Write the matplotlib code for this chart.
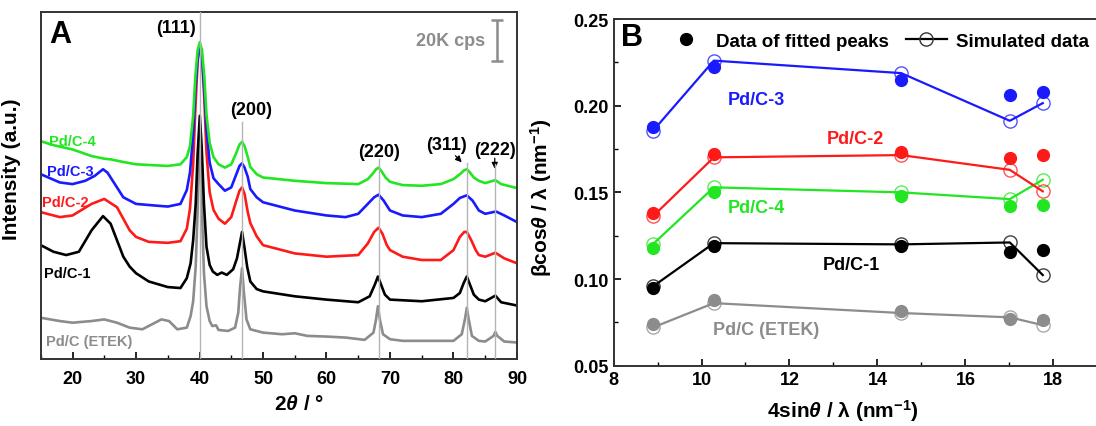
import matplotlib
matplotlib.use('Agg')
import matplotlib.pyplot as plt
from matplotlib.lines import Line2D
from matplotlib.ticker import MultipleLocator, FormatStrFormatter

plt.rcParams['font.family'] = ['Liberation Sans', 'DejaVu Sans']
plt.rcParams['font.weight'] = 'bold'
plt.rcParams['mathtext.fontset'] = 'custom'
plt.rcParams['mathtext.rm'] = 'Liberation Sans:bold'
plt.rcParams['mathtext.it'] = 'Liberation Sans:bold:italic'
plt.rcParams['mathtext.bf'] = 'Liberation Sans:bold'

# ---- panel A : XRD patterns (2theta, intensity in arbitrary units, offset) ----
tt_c4 = [15, 17, 20, 23, 25, 26, 28, 30, 33, 35, 37, 38, 38.5, 39.0, 39.35, 39.7, 40.05, 40.4, 40.75,
         41.1, 41.6, 42.2, 43, 44, 45, 45.8, 46.3, 46.7, 47.1, 47.6, 48, 49, 50, 55, 60, 65, 66.5,
         67.3, 67.8, 68.2, 68.7, 69.3, 70, 72, 75, 78, 80, 81, 81.7, 82.1, 82.6, 83.2, 84, 85, 86.6,
         87.5, 90]
int_c4 = [660, 648, 635, 615, 607, 605, 597, 590, 587, 585, 590, 612, 645, 737, 858, 935, 960, 935, 858,
          740, 655, 612, 590, 580, 590, 625, 650, 658, 645, 612, 582, 560, 550, 540, 533, 530, 545,
          562, 575, 580, 568, 550, 537, 527, 525, 530, 545, 560, 572, 575, 565, 550, 540, 533, 542,
          530, 518]

tt_c3 = [15, 18, 20, 22, 23.5, 24.8, 25.5, 26.5, 28, 30, 33, 35, 37, 38, 38.5, 39.0, 39.35, 39.7, 40.05,
         40.4, 40.75, 41.1, 41.6, 42.2, 43, 44, 45, 45.8, 46.3, 46.7, 47.1, 47.6, 48, 49, 50, 55, 60,
         63, 65, 66.5, 67.5, 68.2, 69, 70, 72, 75, 78, 80, 81, 82.1, 83, 84, 85, 86.7, 88, 90]
int_c3 = [560, 535, 530, 540, 555, 575, 565, 535, 490, 470, 465, 462, 470, 512, 565, 680, 820, 910, 940,
          910, 820, 695, 595, 548, 530, 510, 520, 560, 585, 593, 580, 552, 515, 490, 475, 450, 435,
          430, 440, 470, 490, 498, 480, 450, 435, 430, 440, 470, 488, 496, 480, 450, 440, 447, 435, 415]

tt_c2 = [15, 18, 20, 23, 25, 27, 29, 30, 32, 35, 37, 38, 38.5, 39.0, 39.35, 39.7, 40.05, 40.4, 40.75,
         41.1, 41.6, 42.2, 43, 44, 45, 45.8, 46.3, 46.7, 47.1, 47.6, 48, 49, 50, 55, 60, 65, 66.5,
         67.5, 68.2, 68.8, 69.5, 70, 72, 75, 78, 80, 81, 81.7, 82.1, 82.8, 83.5, 84, 85, 86.6, 88, 90]
int_c2 = [445, 430, 435, 470, 485, 460, 390, 370, 355, 352, 357, 395, 455, 590, 760, 900, 955, 910, 790,
          625, 505, 452, 425, 410, 430, 480, 510, 520, 500, 445, 412, 372, 345, 320, 310, 315, 350,
          385, 398, 380, 345, 330, 310, 300, 300, 330, 370, 385, 385, 360, 330, 315, 310, 322, 305, 290]

tt_c1 = [15, 17, 19, 21, 23, 24.8, 26, 27, 28, 29, 30, 32, 35, 37, 38, 38.6, 39.0, 39.4, 39.7, 40.05,
         40.35, 40.7, 41.1, 41.6, 42.1, 42.8, 43.5, 44.3, 45.3, 45.9, 46.3, 46.7, 47.1, 47.5, 48, 49, 50,
         55, 60, 65, 66.8, 67.6, 68.1, 68.6, 69.2, 70, 75, 80, 81, 81.6, 82.1, 82.6, 83.2, 84, 85,
         86.6, 87.5, 90]
int_c1 = [345, 325, 315, 325, 390, 433, 410, 360, 310, 280, 260, 235, 218, 215, 245, 290, 360, 470, 620, 737,
          640, 470, 340, 285, 265, 255, 262, 255, 272, 305, 345, 385, 335, 280, 235, 212, 205,
          190, 180, 172, 190, 225, 250, 225, 195, 180, 175, 185, 200, 230, 250, 225, 195, 180, 175,
          192, 172, 162]

tt_etek = [15, 18, 20, 23, 25, 27, 29, 31, 33, 34, 35.2, 36.5, 38, 38.6, 39.0, 39.4, 39.7, 40.05, 40.35,
           40.7, 41.1, 41.6, 42, 42.6, 43, 44.5, 45.6, 46.1, 46.4, 46.7, 47.0, 47.4, 48, 50, 53, 55, 57,
           60, 63, 66, 67.4, 67.8, 68.1, 68.4, 68.9, 70, 72, 75, 80, 81.3, 81.8, 82.1, 82.4, 82.9, 84,
           85, 86.3, 86.6, 86.9, 88, 90]
int_etek = [125, 115, 110, 115, 120, 110, 95, 90, 110, 120, 115, 90, 95, 130, 175, 280, 450, 700, 470,
            260, 160, 115, 100, 102, 88, 85, 95, 140, 220, 275, 200, 120, 90, 80, 75, 78, 70,
            68, 65, 58, 80, 120, 160, 120, 75, 60, 55, 55, 55, 75, 120, 155, 120, 70, 55,
            53, 70, 82, 70, 53, 50]

peak_pos = [40.05, 46.7, 68.2, 82.1, 86.6]
peak_top = [1053, 718, 605, 595, 590]
peak_names = ['(111)', '(200)', '(220)', '(311)', '(222)']

# ---- panel B : Williamson-Hall ----
q_b = [8.90, 10.28, 14.54, 17.01, 17.76]
fit_c3 = [0.1875, 0.2221, 0.2150, 0.2061, 0.2077]
sim_c3 = [0.1856, 0.2260, 0.2188, 0.1913, 0.2015]
fit_c2 = [0.1383, 0.1721, 0.1735, 0.1696, 0.1715]
sim_c2 = [0.1363, 0.1702, 0.1715, 0.1630, 0.1506]
fit_c4 = [0.1177, 0.1500, 0.1480, 0.1419, 0.1425]
sim_c4 = [0.1202, 0.1529, 0.1500, 0.1461, 0.1573]
fit_c1 = [0.0946, 0.1192, 0.1190, 0.1154, 0.1165]
sim_c1 = [0.0958, 0.1207, 0.1200, 0.1211, 0.1023]
fit_etek = [0.0740, 0.0880, 0.0817, 0.0769, 0.0765]
sim_etek = [0.0721, 0.0861, 0.0804, 0.0779, 0.0734]

GREEN = '#22e622'
BLUE = '#1a1aff'
RED = '#ff1a1a'
BLACK = '#000000'
GRAY = '#8c8c8c'

fig = plt.figure(figsize=(10.96, 4.27), dpi=100)
axA = fig.add_axes([0.0372, 0.1569, 0.4345, 0.8138])
axB = fig.add_axes([0.5598, 0.1412, 0.4402, 0.8119])

# panel A
for tt, inten, c in [(tt_etek, int_etek, GRAY), (tt_c1, int_c1, BLACK), (tt_c2, int_c2, RED),
                     (tt_c3, int_c3, BLUE), (tt_c4, int_c4, GREEN)]:
    axA.plot(tt, inten, color=c, lw=1.9, solid_joinstyle='round')

for p, top in zip(peak_pos, peak_top):
    axA.plot([p, p], [0, top], color='#b4b4b4', lw=1.0, zorder=5)

axA.set_xlim(15, 90)
axA.set_ylim(0, 1053)
axA.set_yticks([])
axA.xaxis.set_major_locator(MultipleLocator(10))
axA.xaxis.set_minor_locator(MultipleLocator(5))
axA.tick_params(axis='x', which='both', direction='in', labelsize=13, pad=8)
axA.tick_params(axis='x', which='major', length=5, width=1.2)
axA.tick_params(axis='x', which='minor', length=3, width=1.0)
for s in axA.spines.values():
    s.set_linewidth(1.4)
    s.set_color('#333333')

axA.set_ylabel('Intensity (a.u.)', fontsize=15, fontweight='bold')
axA.yaxis.set_label_coords(-0.042, 0.55)
axA.set_xlabel(r'2$\theta$ / °', fontsize=15, fontweight='bold', va='center')
axA.xaxis.set_label_coords(0.543, -0.128)

axA.text(18.1, 985, 'A', fontsize=22, fontweight='bold', ha='center', va='center')
axA.text(79.6, 965, '20K cps', fontsize=13, fontweight='bold', color=GRAY, ha='center', va='center')
axA.errorbar([86.9], [965], yerr=[63], color=GRAY, capsize=4, elinewidth=1.8, capthick=1.8)

label_xy = [(36.25, 1005), (48.2, 755), (68.2, 630), (78.9, 650), (86.5, 635)]
for name, (x, y) in zip(peak_names, label_xy):
    axA.text(x, y, name, fontsize=13, fontweight='bold', ha='center', va='center')
axA.annotate('', xy=(81.6, 590), xytext=(80.0, 622),
             arrowprops=dict(arrowstyle='-|>', color='black', lw=0.9, mutation_scale=9))
axA.annotate('', xy=(86.5, 568), xytext=(86.5, 617),
             arrowprops=dict(arrowstyle='-|>', color='black', lw=0.9, mutation_scale=9))

for txt, x, y, c in [('Pd/C-4', 20.0, 662, GREEN), ('Pd/C-3', 19.7, 570, BLUE), ('Pd/C-2', 18.9, 475, RED),
                     ('Pd/C-1', 19.2, 260, BLACK), ('Pd/C (ETEK)', 22.6, 55, GRAY)]:
    axA.text(x, y, txt, fontsize=10.5, fontweight='bold', color=c, ha='center', va='center')

# panel B
series = [(fit_etek, sim_etek, GRAY), (fit_c1, sim_c1, BLACK), (fit_c4, sim_c4, GREEN),
          (fit_c2, sim_c2, RED), (fit_c3, sim_c3, BLUE)]
for fit, sim, c in series:
    axB.plot(q_b, sim, color=c, lw=1.6, zorder=2)
    axB.plot(q_b, sim, 'o', ms=9.5, mfc='none', mec=c, mew=1.0, alpha=0.75, zorder=3)
    axB.plot(q_b, fit, 'o', ms=8.5, color=c, mec=c, zorder=4)

axB.set_xlim(8, 18.97)
axB.set_ylim(0.05, 0.25)
axB.xaxis.set_major_locator(MultipleLocator(2))
axB.xaxis.set_minor_locator(MultipleLocator(1))
axB.yaxis.set_major_locator(MultipleLocator(0.05))
axB.yaxis.set_minor_locator(MultipleLocator(0.025))
axB.yaxis.set_major_formatter(FormatStrFormatter('%.2f'))
axB.tick_params(which='both', direction='in', labelsize=13)
axB.tick_params(which='major', length=5, width=1.2)
axB.tick_params(which='minor', length=3, width=1.0)
axB.spines['right'].set_visible(False)
for k in ['left', 'top', 'bottom']:
    axB.spines[k].set_linewidth(1.4)
    axB.spines[k].set_color('#333333')

axB.set_ylabel(r'βcos$\theta$ / λ (nm$^{-1}$)', fontsize=15, fontweight='bold')
axB.yaxis.set_label_coords(-0.123, 0.488)
axB.set_xlabel(r'4sin$\theta$ / λ (nm$^{-1}$)', fontsize=15, fontweight='bold', va='center')
axB.xaxis.set_label_coords(0.476, -0.128)

axB.text(8.41, 0.2394, 'B', fontsize=22, fontweight='bold', ha='center', va='center')
for txt, x, y, c in [('Pd/C-3', 11.25, 0.2038, BLUE), ('Pd/C-2', 13.49, 0.1808, RED),
                     ('Pd/C-4', 11.25, 0.1413, GREEN), ('Pd/C-1', 13.41, 0.1086, BLACK),
                     ('Pd/C (ETEK)', 11.48, 0.0711, GRAY)]:
    axB.text(x, y, txt, fontsize=13, fontweight='bold', color=c, ha='center', va='center')

handles = [Line2D([], [], ls='none', marker='o', ms=8.5, color='black'),
           Line2D([], [], color='black', lw=1.6, marker='o', ms=9.5, mfc='none', mec='#333333')]
axB.legend(handles, ['Data of fitted peaks', 'Simulated data'], loc='upper left',
           bbox_to_anchor=(0.072, 1.01), ncol=2, frameon=False, handlelength=2.2,
           handletextpad=0.5, columnspacing=0.9, prop={'size': 13.5, 'weight': 'bold'})

fig.savefig('out.png', dpi=100)
